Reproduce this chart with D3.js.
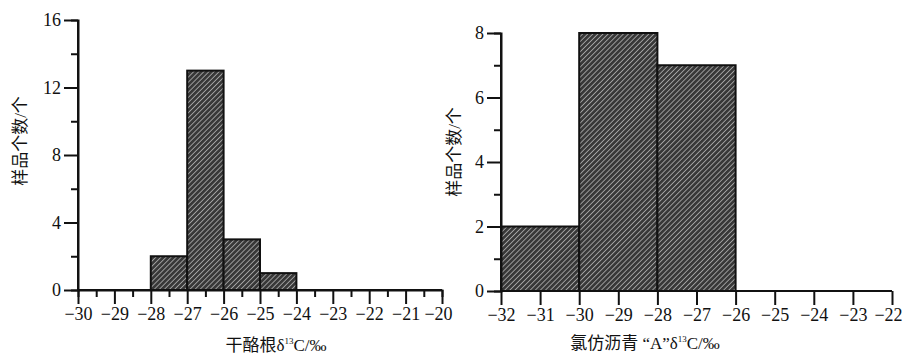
<!DOCTYPE html>
<html>
<head>
<meta charset="utf-8">
<script src="https://cdn.jsdelivr.net/npm/d3@7"></script>
<style>
  body { margin: 0; background: #fff; }
</style>
</head>
<body>
<div id="chart"></div>
<script>
// left histogram: kerogen
const leftBins = [-28, -27, -26, -25];
const leftCounts = [2, 13, 3, 1];
const leftXTicks = d3.range(-30, -19, 1);
const leftYTicks = [0, 4, 8, 12, 16];

// right histogram: chloroform bitumen "A"
const rightBins = [-32, -30, -28];
const rightCounts = [2, 8, 7];
const rightXTicks = d3.range(-32, -21, 1);
const rightYTicks = [0, 2, 4, 6, 8];

const W = 903, H = 356;
const FONT = '"Liberation Serif", "DejaVu Serif", "Noto Sans CJK SC", serif';
const svg = d3.select('#chart').append('svg').attr('width', W).attr('height', H);

// hatch pattern
const defs = svg.append('defs');
const pat = defs.append('pattern')
    .attr('id', 'hatch')
    .attr('patternUnits', 'userSpaceOnUse')
    .attr('width', 3.6).attr('height', 3.6)
    .attr('patternTransform', 'rotate(45)');
pat.append('rect').attr('width', 3.6).attr('height', 3.6).attr('fill', '#383838');
pat.append('line').attr('x1', 0).attr('y1', 0).attr('x2', 0).attr('y2', 3.6)
    .attr('stroke', '#cfcfcf').attr('stroke-width', 1.3);

const minus = v => (v < 0 ? '\u2212' : '') + Math.abs(v);

function drawAxis(g, axis) {
    g.call(axis);
    g.attr('font-family', null);
    g.select('.domain').attr('stroke', '#111').attr('stroke-width', 2);
    g.selectAll('.tick line').attr('stroke', '#111').attr('stroke-width', 2);
    g.selectAll('.tick text')
        .style('font-family', FONT)
        .style('font-size', '18px')
        .attr('fill', '#111');
}

function chart(opt) {
    const x = d3.scaleLinear().domain(opt.xDomain).range(opt.xRange);
    const y = d3.scaleLinear().domain(opt.yDomain).range(opt.yRange);
    const g = svg.append('g');

    // bars
    g.selectAll('rect.bar')
        .data(opt.bins.map((b, i) => ({ x0: b, x1: b + opt.binW, n: opt.counts[i] })))
        .enter().append('rect')
        .attr('class', 'bar')
        .attr('x', d => x(d.x0))
        .attr('y', d => y(d.n))
        .attr('width', d => x(d.x1) - x(d.x0))
        .attr('height', d => y(0) - y(d.n))
        .attr('fill', 'url(#hatch)')
        .attr('stroke', '#111')
        .attr('stroke-width', 2);

    // x minor ticks
    if (opt.xMinor) {
        drawAxis(g.append('g').attr('transform', 'translate(0,' + y(0) + ')'),
            d3.axisBottom(x).tickValues(opt.xMinor).tickSize(7).tickFormat(''));
    }
    // x major
    const gx = g.append('g').attr('transform', 'translate(0,' + y(0) + ')');
    drawAxis(gx, d3.axisBottom(x).tickValues(opt.xTicks).tickSize(14).tickPadding(3).tickFormat(minus));
    gx.select('.domain').attr('d', 'M' + x(opt.xDomain[0]) + ',0H' + x(opt.xDomain[1]));
    gx.selectAll('.tick:last-of-type text').attr('dx', -4);

    // y minor
    drawAxis(g.append('g').attr('transform', 'translate(' + x(opt.xDomain[0]) + ',0)'),
        d3.axisLeft(y).tickValues(opt.yMinor).tickSize(7).tickFormat(''));
    // y major
    const gy = g.append('g').attr('transform', 'translate(' + x(opt.xDomain[0]) + ',0)');
    drawAxis(gy, d3.axisLeft(y).tickValues(opt.yTicks).tickSize(14).tickPadding(3).tickFormat(d3.format('d')));
    gy.select('.domain').attr('d', 'M0,' + y(opt.yDomain[0]) + 'V' + y(opt.yDomain[1]));

    // y label
    g.append('text')
        .attr('transform', 'translate(' + opt.yLabelX + ',' + opt.yLabelY + ') rotate(-90)')
        .attr('text-anchor', 'middle')
        .attr('dominant-baseline', 'central')
        .style('font-family', FONT)
        .style('font-size', '17px')
        .attr('fill', '#111')
        .text('样品个数/个');

    // x label
    const t = g.append('text')
        .attr('x', opt.xLabelX).attr('y', opt.xLabelY)
        .attr('text-anchor', 'middle')
        .style('font-family', FONT)
        .style('font-size', '17px')
        .attr('fill', '#111');
    t.append('tspan').text(opt.xLabelPre + 'δ');
    t.append('tspan').attr('dy', -7).style('font-size', '9px').text('13');
    t.append('tspan').attr('dy', 7).text('C/‰');
}

chart({
    xDomain: [-30, -20], xRange: [78, 442],
    yDomain: [0, 16], yRange: [290, 20],
    bins: leftBins, counts: leftCounts, binW: 1,
    xTicks: leftXTicks, xMinor: d3.range(-29.5, -20, 1),
    yTicks: leftYTicks, yMinor: [2, 6, 10, 14],
    yLabelX: 20, yLabelY: 141,
    xLabelX: 276, xLabelY: 351, xLabelPre: '干酪根'
});

chart({
    xDomain: [-32, -22], xRange: [501, 892],
    yDomain: [0, 8], yRange: [291, 33],
    bins: rightBins, counts: rightCounts, binW: 2,
    xTicks: rightXTicks, xMinor: null,
    yTicks: rightYTicks, yMinor: [1, 3, 5, 7],
    yLabelX: 454, yLabelY: 152,
    xLabelX: 645, xLabelY: 349, xLabelPre: '氯仿沥青 “A”'
});
</script>
</body>
</html>
